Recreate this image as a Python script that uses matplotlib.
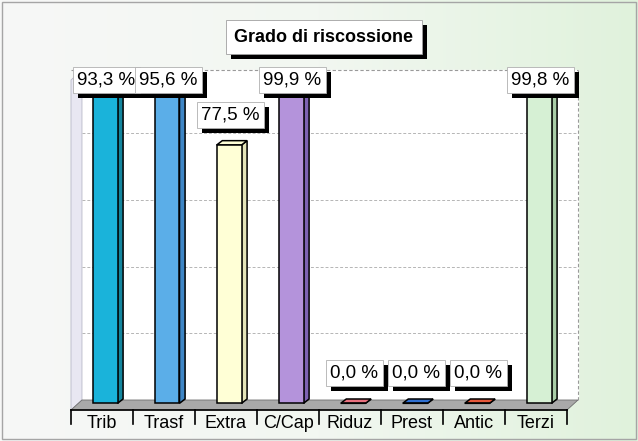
import numpy as np
import matplotlib.pyplot as plt
import matplotlib.transforms as mtransforms
from matplotlib.colors import LinearSegmentedColormap

plt.rcParams['font.family'] = ['Liberation Sans', 'DejaVu Sans']

categorie = ['Trib', 'Trasf', 'Extra', 'C/Cap', 'Riduz', 'Prest', 'Antic', 'Terzi']
valori = [93.3, 95.6, 77.5, 99.9, 0.0, 0.0, 0.0, 99.8]
etichette = ['93,3 %', '95,6 %', '77,5 %', '99,9 %', '0,0 %', '0,0 %', '0,0 %', '99,8 %']
colori = ['#1AB3DA', '#5BAEE8', '#FFFFD6', '#B493DB', '#E8707E', '#2F6FD0', '#E5573A', '#D6F0D4']
colori_lato = ['#14869E', '#3E86C6', '#E4E4B8', '#7D62B2', '#B04B57', '#1F4E98', '#A83A24', '#A9CDA7']

W, H = 638, 441
fig = plt.figure(figsize=(W / 100, H / 100), dpi=100)

# sfondo sfumato
bg = fig.add_axes([0, 0, 1, 1])
cmap = LinearSegmentedColormap.from_list('sf', ['#F7F8F7', '#F2F7F1', '#E0F2DC'])
bg.imshow(np.linspace(0, 1, 256).reshape(1, -1), aspect='auto', cmap=cmap, extent=[0, 1, 0, 1])
bg.add_patch(plt.Rectangle((0.003, 0.004), 0.994, 0.992, fill=False, ec='#A5A5A5', lw=1))
bg.set_xlim(0, 1)
bg.set_ylim(0, 1)
bg.axis('off')

ax = fig.add_axes([71 / W, (H - 410) / H, 496 / W, 340 / H])
ax.set_xlim(-0.5, 7.5)
ax.set_ylim(-2, 100)
ax.axis('off')

dx, dy = 0.177, 3.0     # profondità pavimento/pareti
sdx, sdy = 0.09, 1.3    # profondità barre
x = np.arange(len(categorie))

# parete di fondo e parete sinistra
ax.fill([-0.5 + dx, 7.5 + dx, 7.5 + dx, -0.5 + dx], [1, 1, 100, 100], color='white', zorder=0, clip_on=False)
ax.fill([-0.5, -0.5 + dx, -0.5 + dx, -0.5], [-2, 1, 100, 97], color='#E8E7F2', ec='#B8B8C8', lw=0.6, zorder=0, clip_on=False)
for g in [20, 40, 60, 80]:
    ax.plot([-0.5 + dx, 7.5 + dx], [g + 1, g + 1], color='#B5B5B5', lw=0.7, ls=(0, (3, 2)), zorder=1, clip_on=False)
ax.plot([-0.5, 7.5 + dx], [100, 100], color='#9A9A9A', lw=0.8, ls=(0, (3, 2)), zorder=1, clip_on=False)
ax.plot([7.5 + dx, 7.5 + dx], [1, 100], color='#9A9A9A', lw=0.8, ls=(0, (3, 2)), zorder=1, clip_on=False)

# pavimento
ax.fill([-0.5, 7.5, 7.5 + dx, -0.5 + dx], [-2, -2, 1, 1], color='#A9A9A9', ec='#6E6E6E', lw=0.6, zorder=2, clip_on=False)

# barre
xc = x + 0.05
ax.bar(xc, valori, width=0.4, color=colori, edgecolor='black', linewidth=1.1, zorder=4)
for xi, v, c, cl in zip(xc, valori, colori, colori_lato):
    x0, x1 = xi - 0.2, xi + 0.2
    ax.fill([x1, x1 + sdx, x1 + sdx, x1], [0, sdy, v + sdy, v], color=cl, ec='black', lw=1.1, zorder=3)
    ax.fill([x0, x1, x1 + sdx, x0 + sdx], [v, v, v + sdy, v + sdy], color=c, ec='black', lw=1.1, zorder=3)

# asse x
ax.plot([-0.5, 7.5], [-2, -2], color='black', lw=1.2, zorder=5, clip_on=False)
for t in np.arange(-0.5, 8, 1):
    ax.plot([t, t], [-2, -6.3], color='black', lw=1.2, zorder=5, clip_on=False)
for xi, cat in zip(x, categorie):
    ax.text(xi, -5.9, cat, ha='center', va='center', fontsize=13, zorder=6)

# etichette dati
caselle = []
for xi, v, lab in zip(xc, valori, etichette):
    t = ax.text(xi + 0.02, min(v + 9, 97), lab, ha='center', va='center', fontsize=13.5, zorder=8,
                bbox=dict(boxstyle='square,pad=0.24', fc='white', ec='#B0B0B0', lw=0.6))
    caselle.append((ax, t, 5))

# titolo
tt = bg.text(324 / W, 1 - 37 / H, 'Grado di riscossione', ha='center', va='center', fontsize=13,
             fontweight='bold', zorder=8,
             bbox=dict(boxstyle='square,pad=0.45', fc='white', ec='#A0A0A0', lw=0.6))
caselle.append((bg, tt, 5))

# ombre nere sotto le caselle
fig.canvas.draw()
for asse, t, off in caselle:
    bb = t.get_bbox_patch().get_window_extent()
    asse.add_patch(plt.Rectangle((bb.x0 + off, bb.y0 - off), bb.width, bb.height, fc='black', ec='none',
                                 transform=mtransforms.IdentityTransform(), zorder=7, clip_on=False))

fig.savefig('out.png', dpi=100)
